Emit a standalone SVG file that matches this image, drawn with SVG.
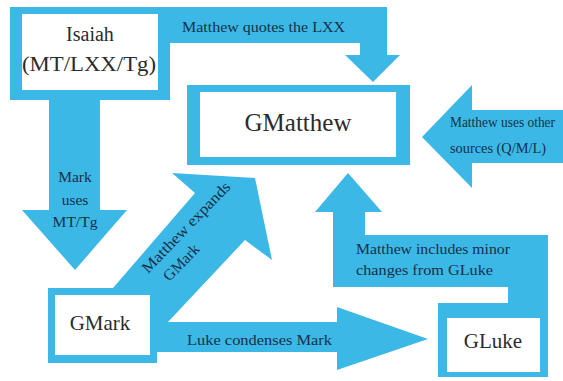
<svg xmlns="http://www.w3.org/2000/svg" width="563" height="381" viewBox="0 0 563 381">
<style>
.b{fill:#3cb8e6}
.w{fill:#ffffff}
.lbl{font-family:"Liberation Serif","Times New Roman",serif;fill:#163049;font-size:15.5px}
.nt{font-family:"Liberation Serif","Times New Roman",serif;fill:#2b2b2b;text-anchor:middle}
</style>
<rect width="563" height="381" fill="#ffffff"/>
<g id="connectors">
  <polygon class="b" points="170,7 387,7 387,55 400,55 373,82 345,55 360,55 360,43 170,43"/>
  <polygon class="b" points="49,100 100,100 100,210 127,210 75,270 22,210 49,210"/>
  <polygon class="b" points="563,110 472,110 472,85 422,137 472,188 472,163 563,163"/>
  <polygon class="b" points="113,288 195,193 172,173 255,178 272,260 245,240 168,322 157,322 157,288"/>
  <polygon class="b" points="157,322 337,322 337,307 428,339 337,370 337,352 157,352"/>
  <polygon class="b" points="333,287 333,212 315,212 348,173 382,212 365,212 365,235 548,235 548,303 508,303 508,287"/>
  <text class="lbl" x="182" y="32" textLength="163" lengthAdjust="spacingAndGlyphs">Matthew quotes the LXX</text>
  <text class="lbl" text-anchor="middle" x="75" y="182">Mark</text>
  <text class="lbl" text-anchor="middle" x="75" y="205">uses</text>
  <text class="lbl" text-anchor="middle" x="75" y="227">MT/Tg</text>
  <text class="lbl" x="450" y="127" font-size="14.5" textLength="105" lengthAdjust="spacingAndGlyphs">Matthew uses other</text>
  <text class="lbl" x="450" y="153" font-size="14.5" textLength="96" lengthAdjust="spacingAndGlyphs">sources (Q/M/L)</text>
  <g transform="translate(148,274) rotate(-46)">
    <text class="lbl" x="0" y="0" textLength="120" lengthAdjust="spacingAndGlyphs">Matthew expands</text>
    <text class="lbl" x="9" y="21">GMark</text>
  </g>
  <text class="lbl" x="187" y="345" textLength="145" lengthAdjust="spacingAndGlyphs">Luke condenses Mark</text>
  <text class="lbl" x="356" y="254" textLength="154" lengthAdjust="spacingAndGlyphs">Matthew includes minor</text>
  <text class="lbl" x="356" y="275" textLength="137" lengthAdjust="spacingAndGlyphs">changes from GLuke</text>
</g>
<g id="isaiah">
  <rect class="b" x="10" y="7" width="160" height="93"/>
  <rect class="w" x="22" y="14" width="136" height="76"/>
  <text class="nt" x="90" y="41" font-size="20">Isaiah</text>
  <text class="nt" x="89" y="71" font-size="21" textLength="134" lengthAdjust="spacingAndGlyphs">(MT/LXX/Tg)</text>
</g>
<g id="gmatthew">
  <rect class="b" x="187" y="85" width="223" height="80"/>
  <rect class="w" x="200" y="92" width="196" height="65"/>
  <text class="nt" x="298" y="131" font-size="25">GMatthew</text>
</g>
<g id="gmark">
  <rect class="b" x="48" y="288" width="109" height="75"/>
  <rect class="w" x="55" y="295" width="95" height="60"/>
  <text class="nt" x="100" y="330" font-size="21">GMark</text>
</g>
<g id="gluke">
  <rect class="b" x="438" y="303" width="110" height="74"/>
  <rect class="w" x="447" y="318" width="93" height="54"/>
  <text class="nt" x="493" y="348" font-size="21">GLuke</text>
</g>
</svg>
